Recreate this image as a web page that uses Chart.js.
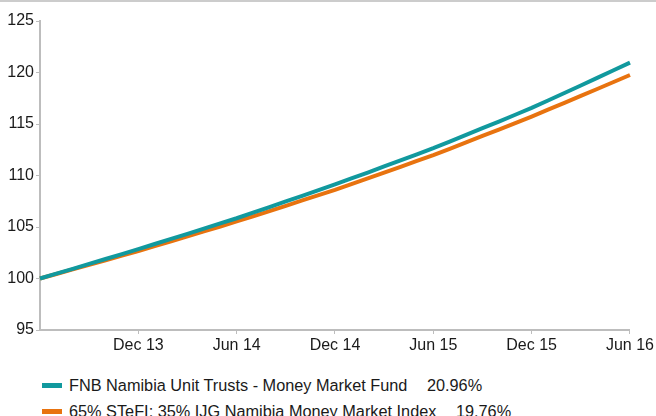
<!DOCTYPE html>
<html>
<head>
<meta charset="utf-8">
<title>FNB Namibia Money Market Fund</title>
<script src="https://cdn.jsdelivr.net/npm/chart.js@4/dist/chart.umd.min.js"></script>
<style>
    html, body { margin: 0; padding: 0; background: #fff; overflow: hidden; }
    #wrap { width: 656px; border-top: 2px solid #cccccc; }
    canvas { display: block; }
    #legend {
        margin-top: 8px;
        padding-left: 42px;
        font-family: "Liberation Sans", Arial, sans-serif;
        font-size: 16.3px;
        color: #1a1a1a;
    }
    .item { height: 26px; line-height: 26px; white-space: nowrap; }
    .swatch { display: inline-block; width: 20px; height: 5px; margin-right: 7px; vertical-align: middle; position: relative; top: -1px; }
    .ret { margin-left: 15px; }
</style>
</head>
<body>
<div id="wrap">
    <canvas id="perfChart" width="656" height="362"></canvas>
    <div id="legend"></div>
</div>
<script>
// --- Data (indexed to 100 at Jun 13) ---
const months = [
    'Jun 13','Jul 13','Aug 13','Sep 13','Oct 13','Nov 13','Dec 13',
    'Jan 14','Feb 14','Mar 14','Apr 14','May 14','Jun 14',
    'Jul 14','Aug 14','Sep 14','Oct 14','Nov 14','Dec 14',
    'Jan 15','Feb 15','Mar 15','Apr 15','May 15','Jun 15',
    'Jul 15','Aug 15','Sep 15','Oct 15','Nov 15','Dec 15',
    'Jan 16','Feb 16','Mar 16','Apr 16','May 16','Jun 16'
];
const fundValues = [
    100.00,100.47,100.94,101.42,101.89,102.37,102.85,
    103.35,103.84,104.34,104.84,105.35,105.85,
    106.39,106.94,107.48,108.03,108.58,109.13,
    109.71,110.29,110.88,111.47,112.06,112.65,
    113.29,113.94,114.59,115.24,115.90,116.56,
    117.28,118.01,118.74,119.48,120.22,120.96
];
const benchmarkValues = [
    100.00,100.44,100.88,101.33,101.77,102.22,102.67,
    103.14,103.62,104.09,104.57,105.05,105.54,
    106.04,106.55,107.06,107.58,108.09,108.61,
    109.17,109.72,110.28,110.84,111.41,111.98,
    112.59,113.21,113.84,114.46,115.09,115.72,
    116.39,117.05,117.73,118.40,119.08,119.76
];
const seriesNames = [
    'FNB Namibia Unit Trusts - Money Market Fund',
    '65% STeFI; 35% IJG Namibia Money Market Index'
];
const seriesReturns = ['20.96%', '19.76%'];
const yTicks = [95, 100, 105, 110, 115, 120, 125];

const colors = ['#11999e', '#e8730f'];
const axisGrey = '#bdbdbd';
const textCol = '#1a1a1a';
const font = { family: '"Liberation Sans", Arial, sans-serif', size: 16 };

// only every 6th month gets a label/tick (first one hidden)
const showTick = i => i > 0 && i % 6 === 0;

const chart = new Chart(document.getElementById('perfChart'), {
    type: 'line',
    data: {
        labels: months,
        datasets: [
            { label: seriesNames[0], data: fundValues, borderColor: colors[0], backgroundColor: colors[0] },
            { label: seriesNames[1], data: benchmarkValues, borderColor: colors[1], backgroundColor: colors[1] }
        ]
    },
    options: {
        responsive: false,
        animation: false,
        devicePixelRatio: 1,
        layout: { padding: { top: 19, left: 0, right: 25, bottom: 0 } },
        elements: {
            line: { borderWidth: 4, tension: 0, borderCapStyle: 'butt' },
            point: { radius: 0 }
        },
        scales: {
            x: {
                grid: {
                    drawOnChartArea: false,
                    tickLength: 4,
                    color: ctx => showTick(ctx.index) ? axisGrey : 'rgba(0,0,0,0)'
                },
                border: { color: axisGrey, width: 2 },
                ticks: {
                    autoSkip: false, maxRotation: 0, minRotation: 0,
                    padding: 2, color: textCol, font: font,
                    callback: (v, i) => showTick(i) ? months[i] : ''
                },
                afterFit: s => { s.height = 34; }
            },
            y: {
                min: yTicks[0], max: yTicks[yTicks.length - 1],
                afterBuildTicks: s => { s.ticks = yTicks.map(v => ({ value: v })); },
                grid: { drawOnChartArea: false, tickLength: 4, color: axisGrey },
                border: { color: axisGrey, width: 2 },
                ticks: { padding: 2, color: textCol, font: font },
                afterFit: s => { s.width = 40; }
            }
        },
        plugins: {
            tooltip: { enabled: false },
            legend: { display: false }
        }
    }
});

// HTML legend below the canvas
const legendEl = document.getElementById('legend');
chart.data.datasets.forEach((ds, i) => {
    const row = document.createElement('div');
    row.className = 'item';
    row.innerHTML = `<span class="swatch" style="background:${ds.borderColor}"></span>${ds.label} <span class="ret">${seriesReturns[i]}</span>`;
    legendEl.appendChild(row);
});
</script>
</body>
</html>
